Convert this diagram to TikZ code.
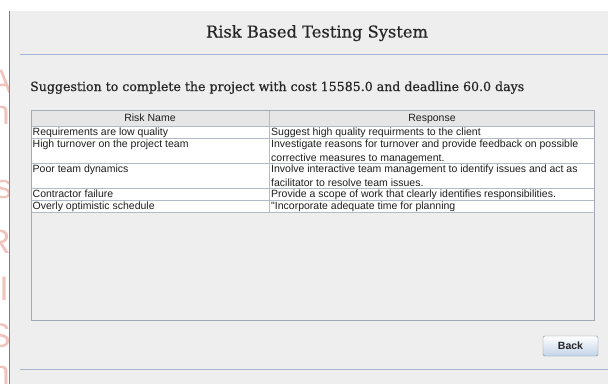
\documentclass[tikz,border=0pt]{standalone}
\usepackage{fontspec}
\newfontfamily\uisans{Liberation Sans}
\newfontfamily\headserif[FakeBold=0.6]{DejaVu Serif}
\definecolor{panel}{HTML}{EEEEEE}
\definecolor{edgeblue}{HTML}{4F8AD0}
\definecolor{sepblue}{HTML}{A3B6D8}
\definecolor{sepgray}{HTML}{A9B5CA}
\definecolor{tborder}{HTML}{A2AAB6}
\definecolor{gridc}{HTML}{B4BBC6}
\definecolor{headbg}{HTML}{E6E6E6}
\definecolor{wmark}{HTML}{F0C4BD}
\definecolor{btnedge}{HTML}{7D90AE}
\definecolor{btnlow}{HTML}{C3D3E8}
\definecolor{ink}{HTML}{1E1E1E}
\definecolor{titleink}{HTML}{262626}
\begin{document}
\begin{tikzpicture}[x=1pt,y=-1pt,
  cell/.style={anchor=base west,inner sep=0pt,font=\uisans\fontsize{10.5}{12}\selectfont,text=ink},
  headcell/.style={anchor=base,inner sep=0pt,font=\uisans\fontsize{10.5}{12}\selectfont,text=ink},
  grid/.style={draw=gridc,line width=0.8pt},
  wm/.style={inner sep=0pt,anchor=base east,text=wmark,font=\uisans\fontsize{34}{34}\selectfont},
  btn/.style={draw=btnedge,rounded corners=1.5pt,top color=white,bottom color=btnlow,minimum width=55pt,minimum height=20pt,inner sep=0pt,font=\uisans\bfseries\fontsize{10.5}{12}\selectfont,text=titleink}]
\useasboundingbox (0,0) rectangle (608,384);
\fill[white] (0,0) rectangle (608,384);
\fill[panel] (10,11) rectangle (608,384);
% faint watermark letters at the left edge
\begin{scope}
\clip (0,0) rectangle (9,384);
\node[wm] (w1) at (12,93) {A};
\node[wm] (w2) at (10,124) {n};
\node[wm] (w3) at (12,198) {s};
\node[wm] (w4) at (11,253) {R};
\node[wm] (w5) at (9,300) {I};
\node[wm] (w6) at (11,347) {S};
\node[wm] (w7) at (10,384) {h};
\end{scope}
\draw[edgeblue,line width=1pt] (9.5,11) -- (9.5,384);
% title and separators
\node[anchor=base,inner sep=0pt,text=titleink,font=\headserif] (title) at (317,37.5) {\resizebox{222pt}{!}{Risk Based Testing System}};
\draw[sepblue,line width=1pt] (20,54.5) -- (608,54.5);
\node[anchor=base west,inner sep=0pt,text=titleink,font=\headserif] (sub) at (30,91) {\resizebox{494pt}{!}{Suggestion to complete the project with cost 15585.0 and deadline 60.0 days}};
% table
\fill[headbg] (32,111) rectangle (594,126);
\fill[white] (32,126) rectangle (594,212);
\foreach \yy in {126,138,163,188,200,212} \draw[grid] (32,\yy) -- (594,\yy);
\draw[grid] (269.5,111) -- (269.5,212);
\draw[tborder,line width=1pt] (31.5,110.5) rectangle (594.5,320.5);
\node[headcell] (h1) at (150,121.5) {Risk Name};
\node[headcell] (h2) at (432,121.5) {Response};
\node[cell] (a1) at (32.5,135.5) {Requirements are low quality};
\node[cell] (b1) at (271,135.5) {Suggest high quality requirments to the client};
\node[cell] (a2) at (32.5,147.5) {High turnover on the project team};
\node[cell] (b2) at (271,147.5) {Investigate reasons for turnover and provide feedback on possible};
\node[cell] (b2x) at (271,161) {corrective measures to management.};
\node[cell] (a3) at (32.5,172.5) {Poor team dynamics};
\node[cell] (b3) at (271,172.5) {Involve interactive team management to identify issues and act as};
\node[cell] (b3x) at (271,186) {facilitator to resolve team issues.};
\node[cell] (a4) at (32.5,197.5) {Contractor failure};
\node[cell] (b4) at (271,197.5) {Provide a scope of work that clearly identifies responsibilities.};
\node[cell] (a5) at (32.5,209.5) {Overly optimistic schedule};
\node[cell] (b5) at (271,209.5) {"Incorporate adequate time for planning};
% button and bottom separator
\node[btn] (back) at (570.5,346) {Back};
\draw[sepgray,line width=1pt] (20,369.5) -- (608,369.5);
\end{tikzpicture}
\end{document}
